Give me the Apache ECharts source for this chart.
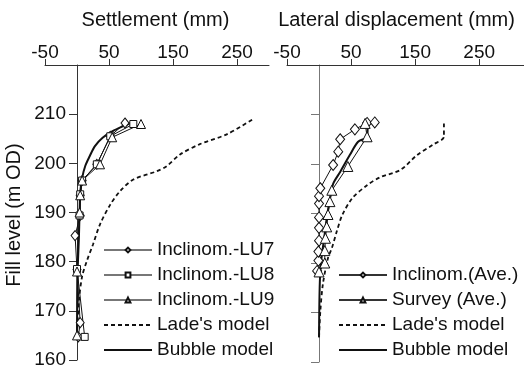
<!DOCTYPE html>
<html><head><meta charset="utf-8">
<script src="https://cdn.jsdelivr.net/npm/echarts@6/dist/echarts.min.js"></script>
<style>html,body{margin:0;padding:0;background:#fff}#c{width:524px;height:376px}</style>
</head><body><div id="c"></div>
<script>
// Tick labels
const xTickValues = [-50, 50, 150, 250];
const yTickValues = [160, 170, 180, 190, 200, 210];

// Left panel: [settlement (mm), fill level (m OD)]
const lu7 = [[2,164.7],[5,167.6],[0,178.4],[-3,185.3],[5,189.4],[5,193.5],[8,196.5],[31,199.8],[52,205.5],[75,208.2]];
const lu8 = [[12,164.7],[0,178.5],[4,189.4],[5,193.7],[8,196.5],[31,199.8],[52,205.5],[88,208]];
const lu9 = [[0,165],[0,178],[4,190],[5,193.5],[8,196.5],[36,199.8],[55,205.3],[100,208]];
const ladeLeft = [[0,165],[3,172],[8,177],[15,180],[25,183.5],[36,187.6],[52,191.6],[67,194.3],[88,196.7],[125,198.4],[140,199.4],[161,201.8],[192,203.9],[234,205.9],[275,209]];
const bubbleLeft = [[0,165],[1,178],[3,185],[4,190],[5,194],[8,197],[13,199.5],[20,201.5],[28,203.5],[40,205.2],[55,206.5],[75,207.7],[90,208.5]];

// Right panel: [lateral displacement (mm), fill level (m OD)]
const inclAve = [[-3,178.4],[-1,180.5],[-1,182.3],[0,184.5],[0,187.1],[0,189.2],[0,192],[0,193.5],[2,195.1],[22,199.8],[30,202.5],[33,205],[56,207],[75,208.3],[87,208.4]];
const surveyAve = [[0,178.2],[9,180],[9,182.5],[10,185],[12,187.3],[14,189.8],[17,192.4],[20,194.7],[45,199.5],[75,205.5],[72,208.2]];
const ladeRight = [[0,165],[2,170.2],[6,175.7],[14,181],[20,183],[28,186.5],[36,189.6],[52,193.1],[75,195.7],[95,197.3],[127,198.8],[153,201.8],[178,203.9],[195,205.5],[195,208.6]];
const bubbleRight = [[0,165],[1,175],[3,180],[8,185],[12,189],[17,193],[22,196],[33,198.4],[48,201.8],[61,204.5],[75,205.5],[76,208.2]];

const FONT = 'Liberation Sans, Arial, sans-serif';
const INK = '#111';

function axisX(gi, max) {
  return {
    gridIndex: gi, type: 'value', position: 'top', min: -50, max: max,
    axisLine: {show: true, onZero: false, lineStyle: {color: '#333', width: 1}},
    axisTick: {show: true, customValues: xTickValues, length: 6, lineStyle: {color: '#333'}},
    axisLabel: {show: true, customValues: xTickValues, fontSize: 19, color: INK, fontFamily: FONT, margin: 3},
    splitLine: {show: false}
  };
}
// the vertical axis crosses the horizontal one at 0 mm (grid starts at -50 mm = 32 px left of it)
function axisY(gi, showLabels, color) {
  return {
    gridIndex: gi, type: 'value', min: 160, max: 220, interval: 10, offset: -32,
    axisLine: {show: true, onZero: false, lineStyle: {color: color, width: 1}},
    axisTick: {show: true, customValues: yTickValues, length: 8, lineStyle: {color: color}},
    axisLabel: {show: showLabels, customValues: yTickValues, fontSize: 19, color: INK, fontFamily: FONT, margin: 11},
    splitLine: {show: false}
  };
}
function markerSeries(name, data, symbol, size, xi) {
  return {
    name: name, type: 'line', data: data, xAxisIndex: xi, yAxisIndex: xi,
    symbol: symbol, symbolSize: size, showSymbol: true,
    lineStyle: {color: INK, width: 1},
    itemStyle: {color: '#fff', borderColor: INK, borderWidth: 1},
    z: 5, animation: false
  };
}
function curveSeries(name, data, dashed, xi) {
  return {
    name: name, type: 'line', data: data, xAxisIndex: xi, yAxisIndex: xi,
    symbol: 'none', smooth: 0.3,
    lineStyle: dashed ? {color: INK, width: 1.8, type: [4, 3]} : {color: INK, width: 2},
    itemStyle: {color: INK},
    z: 4, animation: false
  };
}
const hiddenMark = {color: 'rgba(0,0,0,0)', borderColor: 'rgba(0,0,0,0)', borderWidth: 0};

const chart = echarts.init(document.getElementById('c'), null, {renderer: 'canvas'});
const legendText = {fontSize: 19, color: INK, fontFamily: FONT, lineHeight: 20};
chart.setOption({
  animation: false,
  backgroundColor: '#fff',
  grid: [
    {left: 45, top: 65, width: 224, height: 295},
    {left: 287, top: 65, width: 237, height: 297}
  ],
  xAxis: [axisX(0, 300), axisX(1, 320)],
  yAxis: [axisY(0, true, '#333'), axisY(1, false, '#777')],
  legend: [
    {
      orient: 'vertical', left: 98, top: 235, itemWidth: 48, itemHeight: 6, itemGap: 5,
      selectedMode: false, textStyle: legendText,
      data: [
        {name: 'Inclinom.-LU7', lineStyle: {color: '#777'}},
        {name: 'Inclinom.-LU8', lineStyle: {color: '#777'}},
        {name: 'Inclinom.-LU9', lineStyle: {color: '#777'}},
        {name: "Lade's model", itemStyle: hiddenMark},
        {name: 'Bubble model', itemStyle: hiddenMark}
      ]
    },
    {
      orient: 'vertical', left: 333, top: 260, itemWidth: 48, itemHeight: 6, itemGap: 5,
      selectedMode: false, textStyle: legendText,
      data: [
        {name: 'Inclinom.(Ave.)', lineStyle: {color: '#333'}},
        {name: 'Survey (Ave.)', lineStyle: {color: '#333'}},
        {name: "Lade's model", itemStyle: hiddenMark},
        {name: 'Bubble model', itemStyle: hiddenMark}
      ]
    }
  ],
  graphic: [
    {type: 'text', x: 155.5, y: 20, style: {text: 'Settlement (mm)', font: '20px ' + FONT, fill: INK, textAlign: 'center', textVerticalAlign: 'middle'}},
    {type: 'text', x: 396.5, y: 20, style: {text: 'Lateral displacement (mm)', font: '20px ' + FONT, fill: INK, textAlign: 'center', textVerticalAlign: 'middle'}},
    {type: 'text', x: 14, y: 215, rotation: Math.PI / 2, style: {text: 'Fill level (m OD)', font: '20px ' + FONT, fill: INK, textAlign: 'center', textVerticalAlign: 'middle'}}
  ],
  series: [
    markerSeries('Inclinom.-LU7', lu7, 'diamond', [8, 10], 0),
    markerSeries('Inclinom.-LU8', lu8, 'rect', 7, 0),
    markerSeries('Inclinom.-LU9', lu9, 'triangle', 9, 0),
    curveSeries("Lade's model", ladeLeft, true, 0),
    curveSeries('Bubble model', bubbleLeft, false, 0),
    markerSeries('Inclinom.(Ave.)', inclAve, 'diamond', [9, 11], 1),
    markerSeries('Survey (Ave.)', surveyAve, 'triangle', 10, 1),
    curveSeries("Lade's model", ladeRight, true, 1),
    curveSeries('Bubble model', bubbleRight, false, 1)
  ]
});
</script>
</body></html>
